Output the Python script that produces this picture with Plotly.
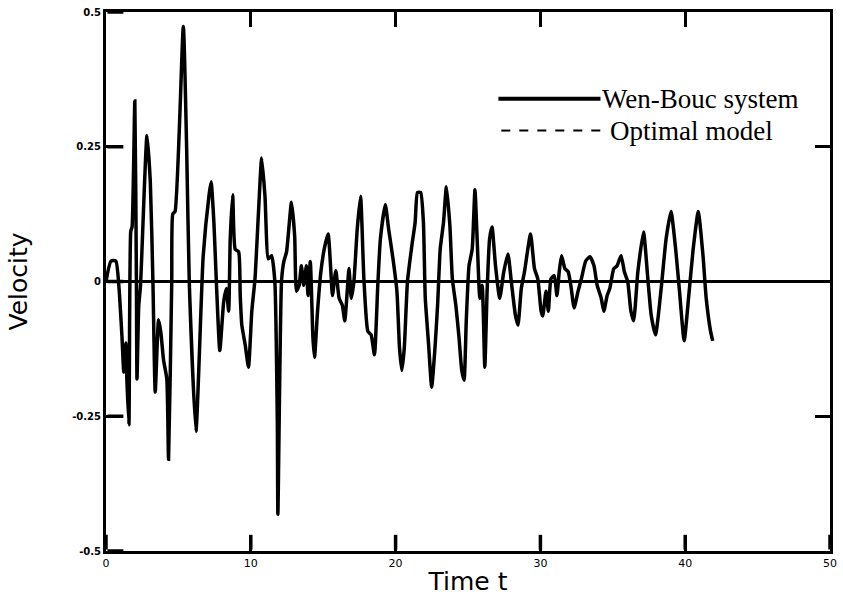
import plotly.graph_objects as go

# Time samples (s) and velocity (Wen-Bouc system)
time_t = [
    0.00, 0.34, 0.68, 0.89, 1.10, 1.23, 1.37, 1.44, 1.58, 1.71, 1.80, 1.99, 2.10, 2.14, 2.26, 2.38,
    2.83, 3.06, 3.24, 3.40, 3.63, 3.79, 3.97, 4.20, 4.32, 4.54, 4.61, 4.77, 5.34, 5.57, 5.75, 6.21,
    6.71, 7.12, 7.26, 7.45, 7.62, 7.86, 8.13, 8.31, 8.47, 8.58, 8.75, 8.92, 9.16, 9.27, 9.38, 9.61,
    9.84, 10.07, 10.29, 10.53, 10.75, 10.98, 11.21, 11.44, 11.66, 11.83, 11.87, 12.12, 12.28, 12.47,
    12.81, 13.03, 13.15, 13.34, 13.49, 13.65, 13.84, 13.95, 14.11, 14.29, 14.40, 14.61, 14.84, 15.07,
    15.34, 15.53, 15.64, 15.87, 16.10, 16.32, 16.49, 16.66, 16.78, 16.94, 17.12, 17.35, 17.58, 17.81,
    18.08, 18.31, 18.54, 18.77, 18.95, 19.29, 19.52, 19.82, 20.09, 20.27, 20.43, 20.60, 20.82, 21.12,
    21.35, 21.51, 21.73, 21.92, 22.05, 22.28, 22.49, 22.72, 22.90, 23.08, 23.31, 23.51, 23.75, 23.92,
    24.16, 24.38, 24.57, 24.73, 24.88, 25.07, 25.29, 25.48, 25.64, 25.82, 25.98, 26.16, 26.32, 26.49,
    26.66, 26.90, 27.19, 27.47, 27.76, 27.99, 28.27, 28.45, 28.68, 28.90, 29.32, 29.59, 29.82, 30.05,
    30.16, 30.39, 30.55, 30.73, 30.96, 31.14, 31.30, 31.46, 31.69, 31.92, 32.10, 32.33, 32.60, 32.83,
    33.13, 33.42, 33.70, 33.92, 34.20, 34.38, 34.61, 34.79, 35.07, 35.29, 35.57, 35.80, 36.03, 36.25,
    36.44, 36.73, 37.12, 37.42, 37.65, 37.95, 38.34, 38.68, 39.02, 39.36, 39.59, 39.93, 40.23, 40.55,
    40.90, 41.23, 41.45, 41.75, 41.90,
]
velocity = [
    0.000, 0.038, 0.038, -0.009, -0.101, -0.168, -0.114, -0.181, -0.266, 0.093, 0.101, 0.335, 0.000, -0.181, -0.046, -0.009,
    0.271, 0.185, 0.000, -0.205, -0.071, -0.095, -0.145, -0.181, -0.330, 0.000, 0.125, 0.130, 0.473, 0.247, 0.000, -0.278,
    0.046, 0.161, 0.185, 0.110, 0.000, -0.128, -0.037, -0.013, -0.055, 0.079, 0.161, 0.060, 0.055, -0.026, -0.081, -0.117,
    -0.159, -0.055, 0.005, 0.128, 0.229, 0.158, 0.042, 0.048, 0.000, -0.256, -0.432, 0.000, 0.037, 0.055,
    0.147, 0.084, -0.018, -0.007, 0.029, -0.007, 0.029, -0.026, 0.037, -0.104, -0.141, -0.055, 0.018, 0.060,
    0.088, 0.018, -0.026, 0.020, -0.031, -0.044, -0.073, -0.018, 0.024, -0.031, 0.000, 0.097, 0.158, 0.005,
    -0.092, -0.099, -0.136, -0.007, 0.079, 0.143, 0.097, 0.042, -0.018, -0.123, -0.165, -0.123, 0.000, 0.066,
    0.110, 0.165, 0.165, 0.110, -0.031, -0.117, -0.196, -0.123, -0.044, 0.060, 0.110, 0.176, 0.103, 0.005,
    -0.044, -0.104, -0.165, -0.183, -0.073, 0.029, 0.060, 0.170, 0.073, -0.031, -0.007, -0.159, -0.018, 0.079,
    0.101, 0.029, -0.031, 0.018, 0.051, 0.000, -0.062, -0.081, -0.013, 0.018, 0.088, 0.024, 0.005, -0.055,
    -0.064, -0.018, -0.055, 0.005, 0.011, -0.026, 0.018, 0.048, 0.024, 0.018, -0.007, -0.049, -0.018, 0.005,
    0.038, 0.046, 0.029, -0.007, -0.031, -0.055, -0.026, -0.013, 0.024, 0.029, 0.048, 0.018, 0.000, -0.055,
    -0.073, 0.018, 0.092, 0.005, -0.062, -0.099, -0.013, 0.079, 0.130, 0.055, -0.013, -0.110, -0.031, 0.060,
    0.130, 0.048, -0.031, -0.092, -0.110,
]

x_ticks = [0, 10, 20, 30, 40, 50]
x_tick_labels = ["0", "10", "20", "30", "40", "50"]
y_ticks = [-0.5, -0.25, 0, 0.25, 0.5]
y_tick_labels = ["-0.5", "-0.25", "0", "0.25", "0.5"]
legend_names = ["Wen-Bouc system", "Optimal model"]
x_range = [0, 50]
y_range = [-0.5, 0.5]

fig = go.Figure()
fig.add_trace(go.Scatter(
    x=time_t, y=velocity, mode="lines", name=legend_names[0],
    line=dict(color="black", width=3.5, shape="spline", smoothing=0.5), showlegend=False,
))

# Inward tick marks on the bottom and left edges, placed at the tick values
for xv in x_ticks:
    fig.add_shape(type="line", xref="x", yref="paper", x0=xv, x1=xv, y0=0.003, y1=0.03,
                  line=dict(color="black", width=3.5), layer="above")
for yv in y_ticks:
    fig.add_shape(type="line", xref="paper", yref="y", x0=0.002, x1=0.024, y0=yv, y1=yv,
                  line=dict(color="black", width=3.5), layer="above")

# Hand-drawn style legend (line samples + serif labels)
fig.add_shape(type="line", xref="paper", yref="paper", x0=0.542, x1=0.683, y0=0.839, y1=0.839,
              line=dict(color="black", width=4))
fig.add_shape(type="line", xref="paper", yref="paper", x0=0.546, x1=0.692, y0=0.780, y1=0.780,
              line=dict(color="black", width=2, dash="dash"))
fig.add_annotation(xref="paper", yref="paper", x=0.683, y=0.839, text=legend_names[0],
                   showarrow=False, xanchor="left", yanchor="middle",
                   font=dict(family="Liberation Serif", size=27, color="black"))
fig.add_annotation(xref="paper", yref="paper", x=0.694, y=0.780, text=legend_names[1],
                   showarrow=False, xanchor="left", yanchor="middle",
                   font=dict(family="Liberation Serif", size=27, color="black"))

tick_style = dict(ticks="inside", ticklen=15, tickwidth=3, tickcolor="black")

fig.update_layout(
    width=843, height=598,
    margin=dict(l=106, r=6, t=10, b=42),
    paper_bgcolor="white", plot_bgcolor="white",
    font=dict(family="DejaVu Sans", color="black"),
    xaxis=dict(
        range=x_range, tickvals=x_ticks, ticktext=x_tick_labels,
        showgrid=False, zeroline=False,
        showline=True, linecolor="black", linewidth=3, mirror="ticks",
        tickfont=dict(family="DejaVu Sans", size=11, color="black"),
        title=dict(text="Time t", font=dict(family="DejaVu Sans", size=25, color="black"), standoff=4),
        **tick_style,
    ),
    yaxis=dict(
        range=y_range, tickvals=y_ticks, ticktext=y_tick_labels,
        showgrid=False, zeroline=True, zerolinecolor="black", zerolinewidth=3,
        showline=True, linecolor="black", linewidth=3, mirror="ticks",
        tickfont=dict(family="DejaVu Sans", size=10, color="black", weight="bold"),
        title=dict(text="Velocity", font=dict(family="DejaVu Sans", size=25, color="black"), standoff=38),
        **tick_style,
    ),
)

fig.write_html("out.html")
